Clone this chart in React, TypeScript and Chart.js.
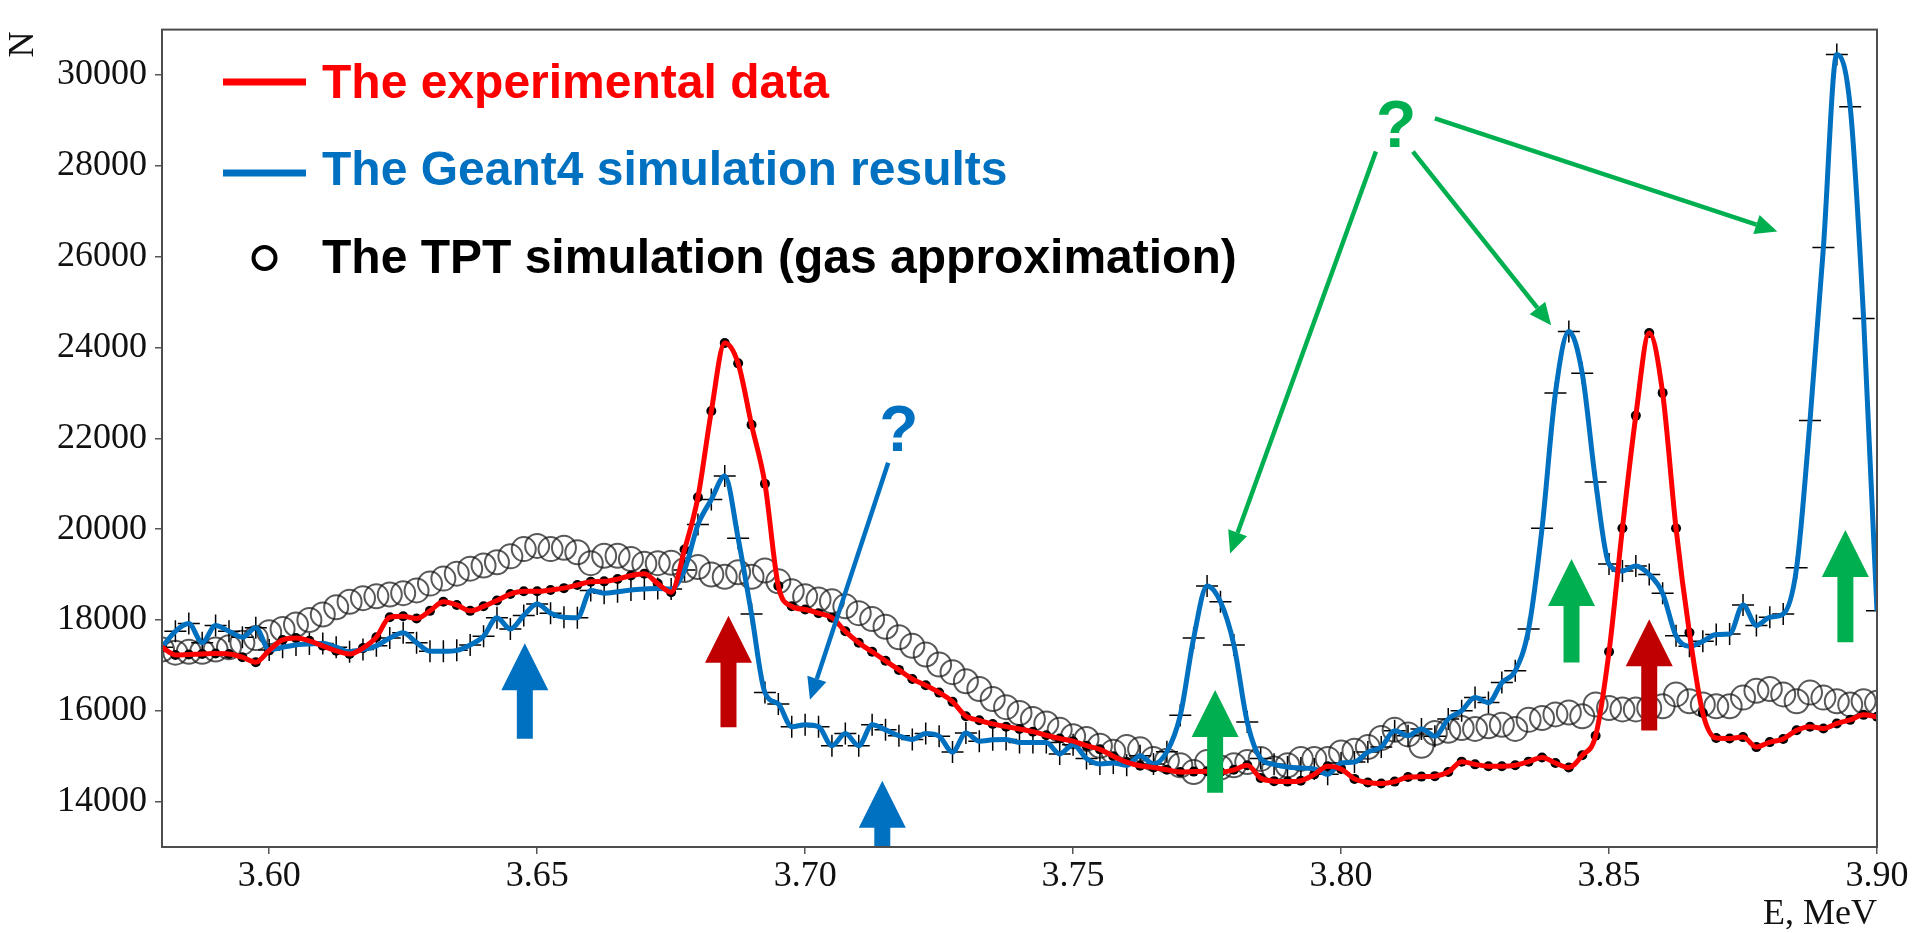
import React, { useEffect, useRef } from "react";
import { Chart, registerables } from "chart.js";

Chart.register(...registerables);

// Energy bins, MeV
const energies = [
  3.58, 3.5825, 3.585, 3.5875, 3.59, 3.5925, 3.595, 3.5975,
  3.6, 3.6025, 3.605, 3.6075, 3.61, 3.6125, 3.615, 3.6175,
  3.62, 3.6225, 3.625, 3.6275, 3.63, 3.6325, 3.635, 3.6375,
  3.64, 3.6425, 3.645, 3.6475, 3.65, 3.6525, 3.655, 3.6575,
  3.66, 3.6625, 3.665, 3.6675, 3.67, 3.6725, 3.675, 3.6775,
  3.68, 3.6825, 3.685, 3.6875, 3.69, 3.6925, 3.695, 3.6975,
  3.7, 3.7025, 3.705, 3.7075, 3.71, 3.7125, 3.715, 3.7175,
  3.72, 3.7225, 3.725, 3.7275, 3.73, 3.7325, 3.735, 3.7375,
  3.74, 3.7425, 3.745, 3.7475, 3.75, 3.7525, 3.755, 3.7575,
  3.76, 3.7625, 3.765, 3.7675, 3.77, 3.7725, 3.775, 3.7775,
  3.78, 3.7825, 3.785, 3.7875, 3.79, 3.7925, 3.795, 3.7975,
  3.8, 3.8025, 3.805, 3.8075, 3.81, 3.8125, 3.815, 3.8175,
  3.82, 3.8225, 3.825, 3.8275, 3.83, 3.8325, 3.835, 3.8375,
  3.84, 3.8425, 3.845, 3.8475, 3.85, 3.8525, 3.855, 3.8575,
  3.86, 3.8625, 3.865, 3.8675, 3.87, 3.8725, 3.875, 3.8775,
  3.88, 3.8825, 3.885, 3.8875, 3.89, 3.8925, 3.895, 3.8975,
  3.9, 3.9025,
];

// The experimental data (red line, black dots)
const experimental = [
  17400, 17230, 17240, 17250, 17260, 17250, 17180, 17070,
  17330, 17560, 17600, 17540, 17430, 17320, 17250, 17380,
  17620, 18060, 18080, 18030, 18200, 18400, 18330, 18200,
  18300, 18430, 18570, 18630, 18630, 18660, 18700, 18770,
  18840, 18850, 18900, 18980, 19020, 18800, 18610, 19550,
  20700, 22600, 24100, 23650, 22300, 21000, 18750, 18300,
  18230, 18150, 18050, 17750, 17500, 17300, 17100, 16900,
  16700, 16560, 16400, 16200, 15880, 15790, 15710, 15650,
  15600, 15540, 15460, 15390, 15330, 15230, 15150, 15000,
  14870, 14790, 14750, 14700, 14650, 14660, 14670, 14650,
  14700, 14800, 14520, 14450, 14440, 14460, 14600, 14780,
  14720, 14500, 14420, 14400, 14440, 14540, 14550, 14560,
  14650, 14880, 14820, 14780, 14780, 14800, 14880, 14970,
  14850, 14750, 15020, 15450, 17300, 20020, 22500, 24320,
  23000, 20020, 17720, 15950, 15400, 15390, 15420, 15200,
  15310, 15380, 15570, 15650, 15610, 15720, 15800, 15910,
  15870,
];

// The Geant4 simulation results (blue line, "+" markers)
const geant4 = [
  17400, 17750, 17920, 17500, 17880, 17750, 17620, 17830,
  17340, 17400, 17450, 17470, 17480, 17400, 17300, 17350,
  17430, 17600, 17720, 17500, 17310, 17310, 17330, 17450,
  17640, 18050, 17800, 18100, 18350, 18150, 18060, 18050,
  18650, 18590, 18620, 18660, 18680, 18690, 18680, 19100,
  20100, 20650, 21170, 19800, 18130, 16400, 16150, 15650,
  15690, 15650, 15230, 15500, 15230, 15690, 15580, 15450,
  15370, 15500, 15440, 15090, 15510, 15330, 15360, 15370,
  15300, 15300, 15300, 15050, 15250, 14950, 14830, 14850,
  14800, 15010, 14830, 15100, 15900, 17600, 18750, 18400,
  17450, 15750, 14950, 14820, 14760, 14740, 14720, 14600,
  14850, 14870, 15090, 15200, 15560, 15450, 15600, 15440,
  15820, 16000, 16290, 16180, 16620, 16880, 17800, 20020,
  23000, 24350, 23430, 21040, 19230, 19080, 19190, 19000,
  18590, 17650, 17420, 17530, 17680, 17690, 18330, 17880,
  18060, 18130, 19150, 22390, 26200, 30450, 29300, 24640,
  18200, 14000,
];

// The TPT simulation (open circles)
const tpt = [
  17350, 17280, 17300, 17300, 17350, 17400, 17500, 17600,
  17730, 17800, 17900, 18000, 18120, 18280, 18400, 18480,
  18520, 18560, 18590, 18650, 18800, 18910, 19020, 19130,
  19200, 19270, 19400, 19560, 19630, 19560, 19590, 19490,
  19250, 19415, 19415, 19340, 19240, 19250, 19260, 19100,
  19165, 19000, 18950, 19050, 18950, 19090, 18850, 18630,
  18520, 18450, 18410, 18300, 18150, 18020, 17850, 17620,
  17430, 17240, 17020, 16850, 16650, 16480, 16260, 16080,
  15950, 15820, 15720, 15580, 15440, 15380, 15230, 15100,
  15200, 15150, 14940, 14900, 14800, 14650, 14870, 14750,
  14800, 14870, 14940, 14730, 14800, 14940, 14940, 14940,
  15080, 15120, 15200, 15400, 15580, 15480, 15230, 15510,
  15560, 15620, 15600, 15660, 15690, 15600, 15800, 15840,
  15920, 15960, 15880, 16140, 16060, 16030, 16030, 16060,
  16100, 16360, 16210, 16140, 16100, 16100, 16290, 16440,
  16480, 16360, 16210, 16400, 16290, 16210, 16140, 16210,
  16175,
];

const xTicks = [3.6, 3.65, 3.7, 3.75, 3.8, 3.85, 3.9];
const yTicks = [14000, 16000, 18000, 20000, 22000, 24000, 26000, 28000, 30000];
const yTitle = "N";

const RED = "#FF0000";
const BLUE = "#0070C0";
const GREEN = "#00B050";
const DARKRED = "#C00000";

const legendLabels = [
  "The experimental data",
  "The Geant4 simulation results",
  "The TPT simulation (gas approximation)",
];
const legendColors = [RED, BLUE, "#000000"];

// Block arrows: energy, tip value, tail value
const blockArrowE = [3.6477, 3.7144, 3.6857, 3.8575, 3.7765, 3.843, 3.8941];
const blockArrowTip = [17489, 14460, 18091, 18013, 16458, 19340, 19983];
const blockArrowTail = [15384, 13000, 15635, 15563, 14194, 17064, 17511];
const blockArrowColor = [BLUE, BLUE, DARKRED, DARKRED, GREEN, GREEN, GREEN];

// Thin pointer arrows: (from energy, from value) -> (to energy, to value)
const pointerFromE = [3.7155, 3.8065, 3.8134, 3.8175];
const pointerFromV = [21463, 28315, 28315, 29045];
const pointerToE = [3.7009, 3.7793, 3.8392, 3.8814];
const pointerToV = [16243, 19465, 24492, 26554];
const pointerColor = [BLUE, GREEN, GREEN, GREEN];

// Question marks
const questionE = [3.7175, 3.8103];
const questionV = [21720, 28422];
const questionColor = [BLUE, GREEN];
const questionSize = [64, 66];

const toPoints = (vals: number[]) => vals.map((v, i) => ({ x: energies[i], y: v }));

const SERIF = "'Liberation Serif', 'Times New Roman', serif";

const overlayPlugin = {
  id: "overlay",
  afterDatasetsDraw(chart: any) {
    const { ctx, chartArea } = chart;
    const xs = chart.scales.x;
    const ys = chart.scales.y;
    ctx.save();

    // block arrows
    for (let i = 0; i < blockArrowE.length; i++) {
      const x = xs.getPixelForValue(blockArrowE[i]);
      const yt = ys.getPixelForValue(blockArrowTip[i]);
      const yb = ys.getPixelForValue(blockArrowTail[i]);
      const hl = 47, hw = 47, sw = 16;
      ctx.beginPath();
      ctx.moveTo(x, yt);
      ctx.lineTo(x + hw / 2, yt + hl);
      ctx.lineTo(x + sw / 2, yt + hl);
      ctx.lineTo(x + sw / 2, yb);
      ctx.lineTo(x - sw / 2, yb);
      ctx.lineTo(x - sw / 2, yt + hl);
      ctx.lineTo(x - hw / 2, yt + hl);
      ctx.closePath();
      ctx.fillStyle = blockArrowColor[i];
      ctx.fill();
    }

    // pointer arrows
    for (let i = 0; i < pointerFromE.length; i++) {
      const x0 = xs.getPixelForValue(pointerFromE[i]);
      const y0 = ys.getPixelForValue(pointerFromV[i]);
      const x1 = xs.getPixelForValue(pointerToE[i]);
      const y1 = ys.getPixelForValue(pointerToV[i]);
      const ang = Math.atan2(y1 - y0, x1 - x0);
      const L = 22, W = 20;
      const bx = x1 - L * Math.cos(ang);
      const by = y1 - L * Math.sin(ang);
      ctx.strokeStyle = pointerColor[i];
      ctx.fillStyle = pointerColor[i];
      ctx.lineWidth = 4.5;
      ctx.beginPath();
      ctx.moveTo(x0, y0);
      ctx.lineTo(bx, by);
      ctx.stroke();
      ctx.beginPath();
      ctx.moveTo(x1, y1);
      ctx.lineTo(bx + (W / 2) * Math.sin(ang), by - (W / 2) * Math.cos(ang));
      ctx.lineTo(bx - (W / 2) * Math.sin(ang), by + (W / 2) * Math.cos(ang));
      ctx.closePath();
      ctx.fill();
    }

    // question marks
    ctx.textAlign = "center";
    ctx.textBaseline = "alphabetic";
    for (let i = 0; i < questionE.length; i++) {
      ctx.font = `bold ${questionSize[i]}px "Liberation Sans", Arial, sans-serif`;
      ctx.fillStyle = questionColor[i];
      ctx.fillText("?", xs.getPixelForValue(questionE[i]), ys.getPixelForValue(questionV[i]));
    }

    // legend
    const lx0 = chartArea.left + 61;
    const lx1 = chartArea.left + 144;
    const tx = chartArea.left + 160;
    const baselines = [98, 185, 273];
    const markY = [82, 173, 258];
    ctx.textAlign = "left";
    ctx.font = `bold 48px "Liberation Sans", Arial, sans-serif`;
    for (let i = 0; i < legendLabels.length; i++) {
      if (i < 2) {
        ctx.strokeStyle = legendColors[i];
        ctx.lineWidth = 7;
        ctx.beginPath();
        ctx.moveTo(lx0, markY[i]);
        ctx.lineTo(lx1, markY[i]);
        ctx.stroke();
      } else {
        ctx.strokeStyle = "#000";
        ctx.lineWidth = 4;
        ctx.beginPath();
        ctx.arc((lx0 + lx1) / 2, markY[i], 11, 0, Math.PI * 2);
        ctx.stroke();
      }
      ctx.fillStyle = legendColors[i];
      ctx.fillText(legendLabels[i], tx, baselines[i]);
    }

    // y-axis title, rotated, at the top end of the axis
    ctx.save();
    ctx.translate(23.5, chartArea.top + 15);
    ctx.rotate(-Math.PI / 2);
    ctx.font = `36px ${SERIF}`;
    ctx.fillStyle = "#111";
    ctx.textAlign = "center";
    ctx.textBaseline = "middle";
    ctx.fillText(yTitle, 0, 0);
    ctx.restore();

    // frame
    ctx.strokeStyle = "#4d4d4d";
    ctx.lineWidth = 2;
    ctx.strokeRect(chartArea.left, chartArea.top, chartArea.right - chartArea.left, chartArea.bottom - chartArea.top);
    ctx.restore();
  },
};

export default function App() {
  const ref = useRef<HTMLCanvasElement | null>(null);

  useEffect(() => {
    if (!ref.current) return;
    const chart = new Chart(ref.current, {
      type: "line",
      data: {
        datasets: [
          {
            label: "The experimental data",
            data: toPoints(experimental),
            borderColor: RED,
            borderWidth: 5,
            pointRadius: 0,
            cubicInterpolationMode: "monotone",
            fill: false,
            order: 1,
          },
          {
            label: "The Geant4 simulation results",
            data: toPoints(geant4),
            borderColor: BLUE,
            borderWidth: 5,
            pointRadius: 0,
            cubicInterpolationMode: "monotone",
            fill: false,
            order: 2,
          },
          {
            label: "experimental points",
            data: toPoints(experimental),
            showLine: false,
            pointStyle: "circle",
            pointRadius: 5,
            pointBackgroundColor: "#000",
            pointBorderColor: "#000",
            pointBorderWidth: 0,
            order: 3,
          },
          {
            label: "Geant4 points",
            data: toPoints(geant4),
            showLine: false,
            pointStyle: "cross",
            pointRadius: 11,
            pointBorderColor: "#000",
            pointBorderWidth: 1.5,
            order: 4,
          },
          {
            label: "The TPT simulation (gas approximation)",
            data: toPoints(tpt),
            showLine: false,
            pointStyle: "circle",
            pointRadius: 12,
            pointBackgroundColor: "rgba(0,0,0,0)",
            pointBorderColor: "rgba(25,25,25,0.72)",
            pointBorderWidth: 2,
            order: 5,
          },
        ],
      },
      options: {
        animation: false,
        responsive: false,
        events: [],
        layout: { padding: { top: 9, right: 38, left: 0, bottom: 0 } },
        plugins: { legend: { display: false }, tooltip: { enabled: false } },
        scales: {
          x: {
            type: "linear",
            min: 3.58,
            max: 3.9,
            afterBuildTicks: (s: any) => {
              s.ticks = xTicks.map((v) => ({ value: v }));
            },
            afterFit: (s: any) => {
              s.height = 86;
            },
            ticks: {
              autoSkip: false,
              maxRotation: 0,
              padding: 1,
              color: "#111",
              font: { family: SERIF, size: 36 },
              callback: (v: any) => Number(v).toFixed(2),
            },
            grid: { drawOnChartArea: false, drawTicks: true, tickLength: 7, color: "#555", lineWidth: 1.5 },
            border: { display: false },
            title: {
              display: true,
              text: "E, MeV",
              align: "end",
              color: "#111",
              font: { family: SERIF, size: 36, lineHeight: 1 },
              padding: { top: 0, bottom: 0 },
            },
          },
          y: {
            type: "linear",
            min: 13000,
            max: 31000,
            afterBuildTicks: (s: any) => {
              s.ticks = yTicks.map((v) => ({ value: v }));
            },
            afterFit: (s: any) => {
              s.width = 162;
            },
            ticks: {
              autoSkip: false,
              padding: 8,
              color: "#111",
              font: { family: SERIF, size: 36 },
              callback: (v: any) => String(v),
            },
            grid: { drawOnChartArea: false, drawTicks: true, tickLength: 7, color: "#555", lineWidth: 1.5 },
            border: { display: false },
            title: { display: false },
          },
        },
      },
      plugins: [overlayPlugin],
    } as any);
    return () => chart.destroy();
  }, []);

  return (
    <div style={{ position: "fixed", left: 0, top: 0, width: 1915, height: 933, background: "#fff" }}>
      <canvas ref={ref} width={1915} height={933} style={{ display: "block", width: 1915, height: 933 }} />
    </div>
  );
}
